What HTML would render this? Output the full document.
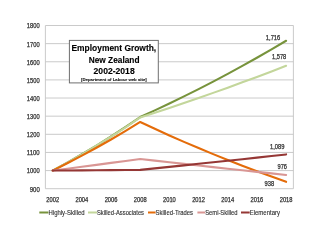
<!DOCTYPE html><html><head><meta charset="utf-8"><style>html,body{margin:0;padding:0;background:#fff;width:320px;height:240px;overflow:hidden}svg{display:block}#w{will-change:transform}text{font-family:"Liberation Sans",sans-serif}</style></head><body>
<div id="w">
<svg width="320" height="240" viewBox="0 0 320 240">
<rect width="320" height="240" fill="#fff"/>
<line x1="45.4" y1="188.70" x2="293.4" y2="188.70" stroke="#C4C4C4" stroke-width="0.9"/>
<text x="29.75" y="191.60" font-size="6.5" font-weight="normal" fill="#303030" stroke="#303030" stroke-width="0.25" textLength="10.00" lengthAdjust="spacingAndGlyphs">900</text>
<line x1="45.4" y1="170.57" x2="293.4" y2="170.57" stroke="#C4C4C4" stroke-width="0.9"/>
<text x="26.80" y="173.47" font-size="6.5" font-weight="normal" fill="#303030" stroke="#303030" stroke-width="0.25" textLength="12.80" lengthAdjust="spacingAndGlyphs">1000</text>
<line x1="45.4" y1="152.43" x2="293.4" y2="152.43" stroke="#C4C4C4" stroke-width="0.9"/>
<text x="26.80" y="155.33" font-size="6.5" font-weight="normal" fill="#303030" stroke="#303030" stroke-width="0.25" textLength="12.80" lengthAdjust="spacingAndGlyphs">1100</text>
<line x1="45.4" y1="134.30" x2="293.4" y2="134.30" stroke="#C4C4C4" stroke-width="0.9"/>
<text x="26.80" y="137.20" font-size="6.5" font-weight="normal" fill="#303030" stroke="#303030" stroke-width="0.25" textLength="12.80" lengthAdjust="spacingAndGlyphs">1200</text>
<line x1="45.4" y1="116.17" x2="293.4" y2="116.17" stroke="#C4C4C4" stroke-width="0.9"/>
<text x="26.80" y="119.07" font-size="6.5" font-weight="normal" fill="#303030" stroke="#303030" stroke-width="0.25" textLength="12.80" lengthAdjust="spacingAndGlyphs">1300</text>
<line x1="45.4" y1="98.03" x2="293.4" y2="98.03" stroke="#C4C4C4" stroke-width="0.9"/>
<text x="26.80" y="100.93" font-size="6.5" font-weight="normal" fill="#303030" stroke="#303030" stroke-width="0.25" textLength="12.80" lengthAdjust="spacingAndGlyphs">1400</text>
<line x1="45.4" y1="79.90" x2="293.4" y2="79.90" stroke="#C4C4C4" stroke-width="0.9"/>
<text x="26.80" y="82.80" font-size="6.5" font-weight="normal" fill="#303030" stroke="#303030" stroke-width="0.25" textLength="12.80" lengthAdjust="spacingAndGlyphs">1500</text>
<line x1="45.4" y1="61.77" x2="293.4" y2="61.77" stroke="#C4C4C4" stroke-width="0.9"/>
<text x="26.80" y="64.67" font-size="6.5" font-weight="normal" fill="#303030" stroke="#303030" stroke-width="0.25" textLength="12.80" lengthAdjust="spacingAndGlyphs">1600</text>
<line x1="45.4" y1="43.63" x2="293.4" y2="43.63" stroke="#C4C4C4" stroke-width="0.9"/>
<text x="26.80" y="46.53" font-size="6.5" font-weight="normal" fill="#303030" stroke="#303030" stroke-width="0.25" textLength="12.80" lengthAdjust="spacingAndGlyphs">1700</text>
<line x1="45.4" y1="25.50" x2="293.4" y2="25.50" stroke="#C4C4C4" stroke-width="0.9"/>
<text x="26.80" y="28.40" font-size="6.5" font-weight="normal" fill="#303030" stroke="#303030" stroke-width="0.25" textLength="12.80" lengthAdjust="spacingAndGlyphs">1800</text>
<line x1="45.4" y1="25.5" x2="45.4" y2="188.7" stroke="#C4C4C4" stroke-width="0.9"/>
<line x1="293.4" y1="25.5" x2="293.4" y2="188.7" stroke="#C4C4C4" stroke-width="0.9"/>
<text x="46.29" y="201.60" font-size="6.5" font-weight="normal" fill="#303030" stroke="#303030" stroke-width="0.25" textLength="12.80" lengthAdjust="spacingAndGlyphs">2002</text>
<text x="75.47" y="201.60" font-size="6.5" font-weight="normal" fill="#303030" stroke="#303030" stroke-width="0.25" textLength="12.80" lengthAdjust="spacingAndGlyphs">2004</text>
<text x="104.65" y="201.60" font-size="6.5" font-weight="normal" fill="#303030" stroke="#303030" stroke-width="0.25" textLength="12.80" lengthAdjust="spacingAndGlyphs">2006</text>
<text x="133.82" y="201.60" font-size="6.5" font-weight="normal" fill="#303030" stroke="#303030" stroke-width="0.25" textLength="12.80" lengthAdjust="spacingAndGlyphs">2008</text>
<text x="163.00" y="201.60" font-size="6.5" font-weight="normal" fill="#303030" stroke="#303030" stroke-width="0.25" textLength="12.80" lengthAdjust="spacingAndGlyphs">2010</text>
<text x="192.18" y="201.60" font-size="6.5" font-weight="normal" fill="#303030" stroke="#303030" stroke-width="0.25" textLength="12.80" lengthAdjust="spacingAndGlyphs">2012</text>
<text x="221.35" y="201.60" font-size="6.5" font-weight="normal" fill="#303030" stroke="#303030" stroke-width="0.25" textLength="12.80" lengthAdjust="spacingAndGlyphs">2014</text>
<text x="250.53" y="201.60" font-size="6.5" font-weight="normal" fill="#303030" stroke="#303030" stroke-width="0.25" textLength="12.80" lengthAdjust="spacingAndGlyphs">2016</text>
<text x="279.71" y="201.60" font-size="6.5" font-weight="normal" fill="#303030" stroke="#303030" stroke-width="0.25" textLength="12.80" lengthAdjust="spacingAndGlyphs">2018</text>
<polyline points="52.69,170.57 67.28,162.58 81.87,154.25 96.46,145.55 111.05,136.46 125.64,126.98 140.22,117.07 154.81,110.37 169.40,103.47 183.99,96.38 198.58,89.09 213.16,81.58 227.75,73.87 242.34,65.93 256.93,57.77 271.52,49.37 286.11,40.73" fill="none" stroke="#77933C" stroke-width="2.1" stroke-linejoin="round" stroke-linecap="round"/>
<polyline points="52.69,170.57 67.28,162.63 81.87,154.35 96.46,145.71 111.05,136.68 125.64,127.27 140.22,117.44 154.81,112.72 169.40,107.91 183.99,103.00 198.58,97.99 213.16,92.88 227.75,87.67 242.34,82.35 256.93,76.93 271.52,71.40 286.11,65.76" fill="none" stroke="#C3D69B" stroke-width="2.1" stroke-linejoin="round" stroke-linecap="round"/>
<polyline points="52.69,170.57 67.28,163.25 81.87,155.63 96.46,147.71 111.05,139.47 125.64,130.89 140.22,121.97 154.81,128.80 169.40,135.42 183.99,141.85 198.58,148.09 213.16,154.14 227.75,160.01 242.34,165.71 256.93,171.24 271.52,176.60 286.11,181.81" fill="none" stroke="#E46C0A" stroke-width="2.1" stroke-linejoin="round" stroke-linecap="round"/>
<polyline points="52.69,170.57 67.28,168.68 81.87,166.78 96.46,164.85 111.05,162.91 125.64,160.95 140.22,158.96 154.81,160.62 169.40,162.26 183.99,163.89 198.58,165.51 213.16,167.11 227.75,168.70 242.34,170.28 256.93,171.84 271.52,173.38 286.11,174.92" fill="none" stroke="#D99694" stroke-width="2.1" stroke-linejoin="round" stroke-linecap="round"/>
<polyline points="52.69,170.57 67.28,170.45 81.87,170.33 96.46,170.20 111.05,170.08 125.64,169.96 140.22,169.84 154.81,168.36 169.40,166.86 183.99,165.35 198.58,163.83 213.16,162.29 227.75,160.74 242.34,159.18 256.93,157.61 271.52,156.03 286.11,154.43" fill="none" stroke="#953735" stroke-width="2.1" stroke-linejoin="round" stroke-linecap="round"/>
<rect x="69.4" y="40.4" width="88.9" height="42.5" fill="#fff" stroke="#6E6E6E" stroke-width="1"/>
<text x="71.50" y="50.90" font-size="8.6" font-weight="bold" fill="#000" stroke="#000" stroke-width="0.12" textLength="84.70" lengthAdjust="spacingAndGlyphs">Employment Growth,</text>
<text x="88.75" y="63.20" font-size="8.6" font-weight="bold" fill="#000" stroke="#000" stroke-width="0.12" textLength="50.75" lengthAdjust="spacingAndGlyphs">New Zealand</text>
<text x="93.60" y="73.90" font-size="8.6" font-weight="bold" fill="#000" stroke="#000" stroke-width="0.12" textLength="41.10" lengthAdjust="spacingAndGlyphs">2002-2018</text>
<text x="81.10" y="81.40" font-size="4.4" font-weight="bold" fill="#202020" stroke="#202020" stroke-width="0.12" textLength="65.60" lengthAdjust="spacingAndGlyphs">[Department of Labour web site]</text>
<text x="265.80" y="39.80" font-size="6.5" font-weight="normal" fill="#303030" stroke="#303030" stroke-width="0.25" textLength="14.50" lengthAdjust="spacingAndGlyphs">1,716</text>
<text x="272.00" y="59.30" font-size="6.5" font-weight="normal" fill="#303030" stroke="#303030" stroke-width="0.25" textLength="14.30" lengthAdjust="spacingAndGlyphs">1,578</text>
<text x="270.00" y="148.50" font-size="6.5" font-weight="normal" fill="#303030" stroke="#303030" stroke-width="0.25" textLength="14.50" lengthAdjust="spacingAndGlyphs">1,089</text>
<text x="277.50" y="169.00" font-size="6.5" font-weight="normal" fill="#303030" stroke="#303030" stroke-width="0.25" textLength="9.50" lengthAdjust="spacingAndGlyphs">976</text>
<text x="264.60" y="186.00" font-size="6.5" font-weight="normal" fill="#303030" stroke="#303030" stroke-width="0.25" textLength="9.70" lengthAdjust="spacingAndGlyphs">938</text>
<line x1="39.3" y1="212.5" x2="48.5" y2="212.5" stroke="#77933C" stroke-width="2"/>
<text x="48.50" y="215.00" font-size="6.5" font-weight="normal" fill="#303030" stroke="#303030" stroke-width="0.12" textLength="36.10" lengthAdjust="spacingAndGlyphs">Highly-Skilled</text>
<line x1="88" y1="212.5" x2="97" y2="212.5" stroke="#C3D69B" stroke-width="2"/>
<text x="97.00" y="215.00" font-size="6.5" font-weight="normal" fill="#303030" stroke="#303030" stroke-width="0.12" textLength="47.00" lengthAdjust="spacingAndGlyphs">Skilled-Associates</text>
<line x1="148" y1="212.5" x2="155.6" y2="212.5" stroke="#E46C0A" stroke-width="2"/>
<text x="155.60" y="215.00" font-size="6.5" font-weight="normal" fill="#303030" stroke="#303030" stroke-width="0.12" textLength="37.40" lengthAdjust="spacingAndGlyphs">Skilled-Trades</text>
<line x1="197.4" y1="212.5" x2="205.2" y2="212.5" stroke="#D99694" stroke-width="2"/>
<text x="205.20" y="215.00" font-size="6.5" font-weight="normal" fill="#303030" stroke="#303030" stroke-width="0.12" textLength="32.30" lengthAdjust="spacingAndGlyphs">Semi-Skilled</text>
<line x1="241" y1="212.5" x2="249.7" y2="212.5" stroke="#953735" stroke-width="2"/>
<text x="249.70" y="215.00" font-size="6.5" font-weight="normal" fill="#303030" stroke="#303030" stroke-width="0.12" textLength="30.30" lengthAdjust="spacingAndGlyphs">Elementary</text>
</svg></div></body></html>
